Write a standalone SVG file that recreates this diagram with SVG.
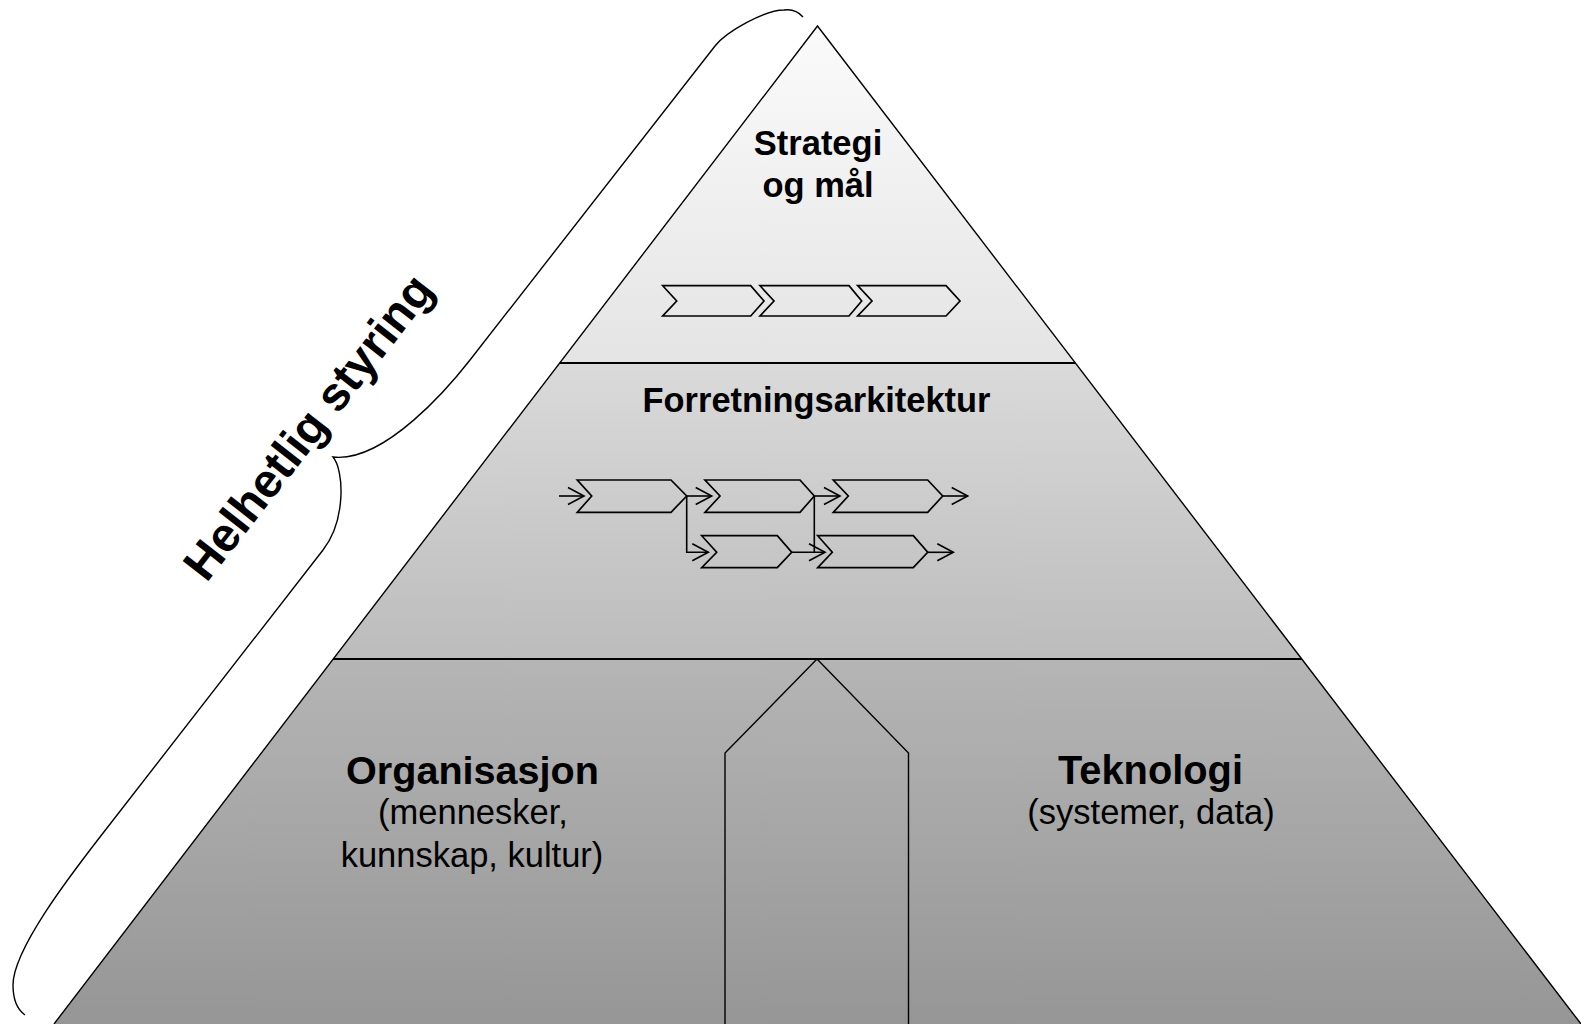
<svg xmlns="http://www.w3.org/2000/svg" width="1581" height="1024" viewBox="0 0 1581 1024">
<style>
.edge{fill:none;stroke:#000;stroke-width:1.4}
.div{fill:none;stroke:#000;stroke-width:2}
.chev{fill:none;stroke:#000;stroke-width:1.7;stroke-linejoin:miter}
.con{fill:none;stroke:#000;stroke-width:1.6}
.b{font-family:"Liberation Sans",Arial,sans-serif;font-weight:bold;fill:#000;text-anchor:middle}
.r{font-family:"Liberation Sans",Arial,sans-serif;fill:#000;text-anchor:middle}
</style>
<defs>
<linearGradient id="g1" gradientUnits="userSpaceOnUse" x1="0" y1="26" x2="0" y2="363"><stop offset="0" stop-color="#fbfbfb"/><stop offset="1" stop-color="#e4e4e4"/></linearGradient>
<linearGradient id="g2" gradientUnits="userSpaceOnUse" x1="0" y1="363" x2="0" y2="659"><stop offset="0" stop-color="#dadada"/><stop offset="1" stop-color="#bcbcbc"/></linearGradient>
<linearGradient id="g3" gradientUnits="userSpaceOnUse" x1="0" y1="659" x2="0" y2="1024"><stop offset="0" stop-color="#b5b5b5"/><stop offset="1" stop-color="#969696"/></linearGradient>
<marker id="arr" markerUnits="userSpaceOnUse" markerWidth="20" markerHeight="20" refX="16" refY="8.5" orient="auto" overflow="visible"><path d="M0,0 L16,8.5 L0,17" fill="none" stroke="#000" stroke-width="1.6"/></marker>
</defs>
<rect width="1581" height="1024" fill="#fff"/>
<g id="pyramid">
<polygon points="817.5,26 1075.3,363 559.7,363" fill="url(#g1)"/>
<polygon points="559.7,363 1075.3,363 1301.7,659 333.3,659" fill="url(#g2)"/>
<polygon points="333.3,659 1301.7,659 1581,1024 54,1024" fill="url(#g3)"/>
<path class="edge" d="M54,1024 L817.5,26 L1581,1024"/>
<path class="div" d="M559.7,363 H1075.3"/>
<path class="div" d="M333.3,659 H1301.7"/>
<path class="edge" d="M725,1024 V753 L817,659 L908.5,753 V1024"/>
</g>
<g id="strategi">
<text class="b" x="818" y="155" font-size="34.5">Strategi</text>
<text class="b" x="818" y="197" font-size="34.5">og mål</text>
<path class="chev" d="M662.7,285.7 H750.7 L764,301 L750.7,316 H662.7 L676.7,301 Z"/>
<path class="chev" d="M760,285.7 H849 L861.7,301 L849,316 H760 L774,301 Z"/>
<path class="chev" d="M857.7,285.7 H946 L960,301 L946,316 H857.7 L872,301 Z"/>
</g>
<g id="forretning">
<text class="b" x="816.5" y="412" font-size="34.4">Forretningsarkitektur</text>
<path class="chev" d="M577.3,480 H671 L686.7,496 L671,512.3 H577.3 L591.7,496 Z"/>
<path class="chev" d="M705,480 H800 L814.3,496 L800,512.3 H705 L720,496 Z"/>
<path class="chev" d="M833.3,480 H927.7 L942.7,496 L927.7,512.3 H833.3 L848.3,496 Z"/>
<path class="chev" d="M701.7,535.7 H777.3 L791.7,552.3 L777.3,567.7 H701.7 L716.7,552.3 Z"/>
<path class="chev" d="M817.7,535.7 H913.3 L927.7,552.3 L913.3,567.7 H817.7 L832.3,552.3 Z"/>
</g>
<g id="connectors">
<path class="con" d="M559,496 H584" marker-end="url(#arr)"/>
<path class="con" d="M686.7,496 H711.7" marker-end="url(#arr)"/>
<path class="con" d="M686.7,496 V552.3 H708.3" marker-end="url(#arr)"/>
<path class="con" d="M814.3,496 H840" marker-end="url(#arr)"/>
<path class="con" d="M814.3,496 V552.3"/>
<path class="con" d="M791.7,552.3 H825" marker-end="url(#arr)"/>
<path class="con" d="M942.7,496 H967.7" marker-end="url(#arr)"/>
<path class="con" d="M927.7,552.3 H953.3" marker-end="url(#arr)"/>
</g>
<g id="organisasjon">
<text class="b" x="472.5" y="784" font-size="39.6">Organisasjon</text>
<text class="r" x="473" y="824" font-size="34.5">(mennesker,</text>
<text class="r" x="472" y="866.5" font-size="34.5">kunnskap, kultur)</text>
</g>
<g id="teknologi">
<text class="b" x="1150.5" y="784" font-size="39.8">Teknologi</text>
<text class="r" x="1151" y="824" font-size="34.5">(systemer, data)</text>
</g>
<g id="helhetlig">
<path class="edge" d="M803,17 C797,10 791,9 784,10 C765,10 727,31 715,46 L470,360 C450.5,385 385,463 333,457 C344,470 346.3,520 323,550 L100,837 C69,877 13,950 13,985 C13,1000 18,1010 25,1015"/>
<text class="b" font-size="47.5" transform="translate(321,437) rotate(-52)">Helhetlig styring</text>
</g>
</svg>
